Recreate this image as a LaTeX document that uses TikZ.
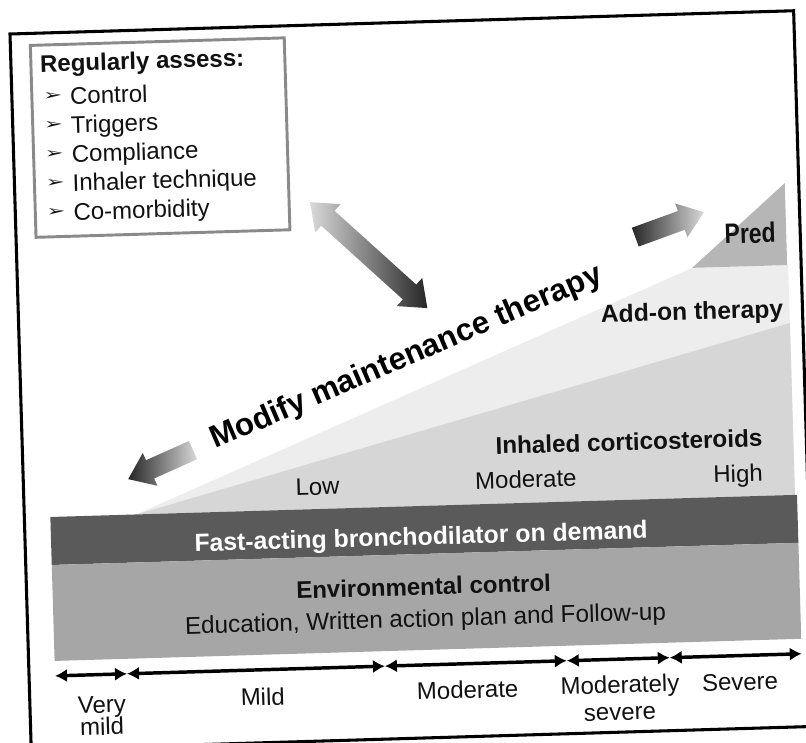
\documentclass[tikz,border=0pt]{standalone}
\usepackage{fontspec}
\setmainfont{Liberation Sans}
\newfontfamily\symfont{DejaVu Sans}
\usetikzlibrary{arrows.meta}
\definecolor{bardark}{HTML}{5A5A5A}
\definecolor{barenv}{HTML}{A6A6A6}
\definecolor{icsgray}{HTML}{D6D6D6}
\definecolor{addongray}{HTML}{EDEDED}
\definecolor{predgray}{HTML}{B6B6B6}
\definecolor{boxgray}{HTML}{8A8A8A}
\definecolor{txtdark}{HTML}{111111}
\newcommand\fsN{\fontsize{18}{21}\selectfont}
\newcommand\fsB{\fontsize{18.5}{21}\selectfont\bfseries}
\begin{document}
\begin{tikzpicture}[x=0.75pt,y=-0.75pt,
  lbl/.style={inner sep=0pt, text=txtdark, font=\fsN},
  blbl/.style={inner sep=0pt, text=txtdark, font=\fsB},
  sev/.style={line width=2.6pt, {Latex[length=9pt,width=10pt]}-{Latex[length=9pt,width=10pt]}},
  blockshade/.style={left color=#1, right color=black!85},
]
\useasboundingbox (0,0) rectangle (806,742);
\begin{scope}
\clip (0,0) rectangle (806,742);
\begin{scope}[shift={(10,34)}, rotate=1.7, every node/.append style={transform shape}]
  % outer frame
  \draw[line width=2.3pt] (0,0) rectangle (784,716);
  % assess box
  \draw[boxgray, line width=2.2pt, fill=white] (20,12) rectangle (274,204);
  \node[blbl, anchor=base west, font=\fontsize{18}{21}\selectfont\bfseries] (title) at (29,39) {Regularly assess:};
  \foreach \t [count=\i from 0] in {Control,Triggers,Compliance,Inhaler technique,Co-morbidity}{
    \node[inner sep=0pt, anchor=west, font=\symfont\fontsize{17}{20}\selectfont, text=txtdark] (bul\i) at (31,{64+29*\i}) {\scalebox{1}[0.65]{➢}};
    \node[lbl, anchor=base west] (item\i) at (58,{72+29*\i}) {\t};
  }
  % wedges
  \fill[addongray] (112,484) -- (675,254) -- (771,254) -- (771,484) -- cycle;
  \fill[icsgray] (112,484) -- (771,312) -- (771,484) -- cycle;
  \fill[predgray] (675,254) -- (770,254) -- (770,172) -- cycle;
  % bars
  \fill[bardark] (26,484) rectangle (773,532);
  \fill[barenv] (26,532) rectangle (773,628);
  % texts in wedges
  \node[blbl, anchor=base] (pred) at (734,231) {\scalebox{0.82}[1]{\fontsize{21}{24}\selectfont Pred}};
  \node[blbl, anchor=base] (addon) at (673.5,306) {Add-on therapy};
  \node[blbl, anchor=base, font=\fontsize{18.2}{21}\selectfont\bfseries] (ics) at (606.6,434.4) {Inhaled corticosteroids};
  \node[lbl, anchor=base] (low) at (294,470) {Low};
  \node[lbl, anchor=base] (mod) at (502.5,469) {Moderate};
  \node[lbl, anchor=base] (high) at (714.7,469.6) {High};
  % bar texts
  \node[inner sep=0pt, anchor=base, text=white, font=\fontsize{18.6}{21}\selectfont\bfseries] (fast) at (396,523) {Fast-acting bronchodilator on demand};
  \node[blbl, anchor=base, font=\fontsize{18}{21}\selectfont\bfseries] (env) at (397,573) {Environmental control};
  \node[lbl, anchor=base, font=\fontsize{18.2}{21}\selectfont] (edu) at (398,605) {Education, Written action plan and Follow-up};
  % severity axis
  \coordinate (s0) at (26,643);
  \coordinate (s1) at (98,643);
  \coordinate (s2) at (356,643);
  \coordinate (s3) at (538,643);
  \coordinate (s4) at (641,643);
  \coordinate (s5) at (773,643);
  \draw[sev] (s0) -- (s1);
  \draw[sev] (s1) -- (s2);
  \draw[sev] (s2) -- (s3);
  \draw[sev] (s3) -- (s4);
  \draw[sev] (s4) -- (s5);
  \node[lbl, anchor=base] (vm1) at (72,681.5) {Very};
  \node[lbl, anchor=base] (vm2) at (71.5,703.5) {mild};
  \node[lbl, anchor=base] (mild) at (233,678.5) {Mild};
  \node[lbl, anchor=base] (moderate) at (438,677.6) {Moderate};
  \node[lbl, anchor=base] (ms1) at (590.4,677) {Moderately};
  \node[lbl, anchor=base] (ms2) at (589.6,704) {severe};
  \node[lbl, anchor=base] (severe) at (710.5,677.7) {Severe};
  % modify text
  \node[inner sep=0pt, anchor=base west, rotate=21.6, text=black, font=\fontsize{23.5}{26}\selectfont\bfseries] (modify) at (193,421) {Modify maintenance therapy};
  % block arrows
  \begin{scope}[shift={(295,177)}, rotate=-43.8]
    \shade[blockshade=gray!30] (0,0) -- (24,-19) -- (24,-10) -- (134,-10) -- (134,-19) -- (158,0) -- (134,19) -- (134,10) -- (24,10) -- (24,19) -- cycle;
  \end{scope}
  \begin{scope}[shift={(619,221.6)}, rotate=18.3]
    \shade[left color=black!85, right color=gray!30] (0,-10) -- (49,-10) -- (49,-18) -- (73,0) -- (49,18) -- (49,10) -- (0,10) -- cycle;
  \end{scope}
  \begin{scope}[shift={(170.6,421.4)}, rotate=202.4]
    \shade[left color=black!85, right color=gray!30] (0,-10) -- (47,-10) -- (47,-18) -- (71,0) -- (47,18) -- (47,10) -- (0,10) -- cycle;
  \end{scope}
\end{scope}
\end{scope}
\end{tikzpicture}
\end{document}
